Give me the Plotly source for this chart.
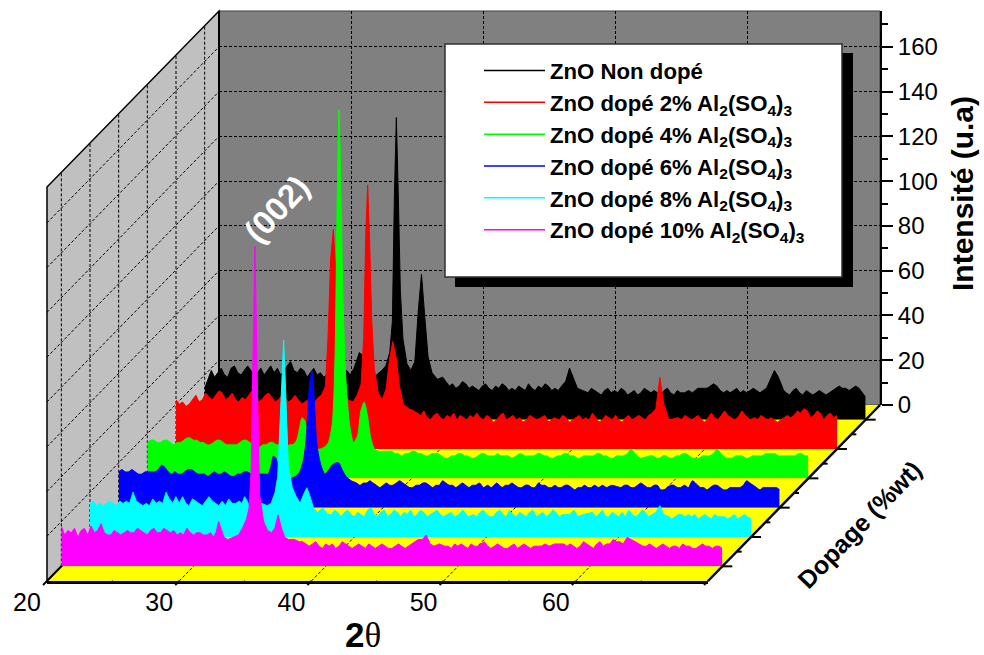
import plotly.graph_objects as go

# ---------- data ----------
two_theta = [20,20.25,20.5,20.75,21,21.25,21.5,21.75,22,22.25,22.5,22.75,23,23.25,23.5,23.75,24,24.25,24.5,24.75,25,25.25,25.5,25.75,26,26.25,26.5,26.75,27,27.25,27.5,27.75,28,28.25,28.5,28.75,29,29.25,29.5,29.75,30,30.25,30.5,30.75,31,
             31.3,31.5,31.7,31.9,32.1,32.3,32.6,33,33.4,33.7,34,34.2,34.35,34.5,34.65,34.8,35,35.3,35.6,35.9,36.15,36.4,36.65,36.9,37.2,37.6,38,
             38.25,38.5,38.75,39,39.25,39.5,39.75,40,40.25,40.5,40.75,41,41.25,41.5,41.75,42,42.25,42.5,42.75,43,43.25,43.5,43.75,44,44.25,44.5,44.75,45,45.25,45.5,45.75,46,46.25,46.5,46.75,47,
             47.3,47.6,47.9,48.2,48.6,
             49,49.25,49.5,49.75,50,50.25,50.5,50.75,51,51.25,51.5,51.75,52,52.25,52.5,52.75,53,53.25,53.5,53.75,54,54.25,54.5,54.75,55,55.25,55.5,55.75,56,
             56.3,56.6,56.9,57.3,
             58,58.25,58.5,58.75,59,59.25,59.5,59.75,60,60.25,60.5,60.75,61,61.25,61.5,61.75,62,62.25,62.5,
             62.8,63.1,63.4,63.8,
             64,64.25,64.5,64.75,65,65.25,65.5,65.75,66,66.25,66.5,66.75,67,67.25,67.5,67.75,68,68.25,68.5,68.75,69,69.25,69.5,69.75,70]

zno_undoped = [14,18,22,19,21,23,20,19,23,24,21,20,22,24,22,19,21,23,20,22,24,21,23,20,22,24,26,22,21,23,22,19,21,23,20,21,19,20,21,18,20,19,21,22,20,
               23,27,30,29,25,21,19,20,22,24,30,44,100,135,100,58,36,25,22,26,48,65,46,28,21,18,19,
               17,15,16,14,15,17,16,14,15,14,13,15,16,14,13,15,14,16,15,13,14,13,15,14,13,16,14,13,15,14,16,15,13,14,13,15,
               17,23,18,14,13,
               12,14,13,12,11,13,14,12,13,12,14,13,11,12,13,11,12,14,13,12,13,12,11,13,14,12,11,13,12,
               12,13,12,14,
               14,15,16,15,13,12,13,12,13,14,12,13,12,13,14,13,12,13,14,
               18,22,19,13,
               12,11,13,14,12,11,13,12,11,12,13,12,11,12,13,14,15,14,14,13,14,15,14,12,10]
zno_2 = [22,20,21,19,20,22,24,21,22,25,23,22,24,26,25,22,23,25,22,21,23,22,24,26,23,21,22,24,25,23,21,22,24,23,21,22,24,22,20,21,22,20,21,23,24,
         28,50,85,98,78,45,27,22,21,24,29,50,95,118,92,58,36,25,22,27,40,48,41,28,20,18,17,
         16,15,17,14,13,15,16,14,13,15,14,16,13,15,14,13,15,14,16,14,13,15,14,12,13,15,16,13,14,15,13,14,12,13,15,14,
         13,14,15,12,14,
         13,15,14,12,13,14,15,13,14,13,16,14,12,13,15,14,13,15,13,12,14,15,13,14,15,14,13,15,16,
         18,32,20,13,
         14,13,15,14,13,14,15,13,12,14,16,14,13,15,17,15,14,13,14,
         17,15,13,14,
         13,15,14,13,14,13,12,13,14,15,14,15,17,16,18,17,14,15,17,16,13,15,16,14,15]
zno_4 = [16,17,17,16,16,17,17,16,15,16,16,17,18,18,17,17,16,16,15,15,16,17,17,16,15,15,15,15,16,17,17,16,15,14,14,15,15,16,16,15,15,14,14,15,15,
         17,22,27,26,21,15,13,13,14,16,25,55,120,165,125,80,46,24,16,19,30,34,28,18,13,12,12,
         12,12,11,11,10,11,11,12,12,11,11,10,10,11,11,11,10,9,9,10,10,11,11,10,10,9,9,10,11,11,10,10,10,11,10,10,
         10,9,10,11,10,
         10,10,11,11,10,10,9,9,10,10,11,11,10,10,9,9,10,10,10,10,11,11,10,10,9,9,10,10,10,
         11,13,11,9,
         10,10,9,9,10,10,9,9,10,10,11,11,10,9,9,9,10,10,10,
         11,13,11,9,
         9,9,10,10,10,9,9,10,10,10,10,11,11,11,11,10,10,10,10,10,10,11,11,10,10]
zno_6 = [16,17,16,16,17,16,15,15,16,16,16,16,17,19,18,16,15,16,15,15,16,17,17,16,15,15,15,14,15,16,15,15,16,15,14,14,15,15,16,16,15,14,15,15,15,
         15,18,23,22,17,13,12,13,14,16,22,32,48,58,61,48,28,19,15,17,19,20,20,17,14,12,11,
         10,11,11,12,11,10,9,10,11,10,10,11,12,11,10,9,9,10,10,11,11,10,9,10,10,12,11,10,10,9,10,11,10,9,10,10,
         11,9,10,9,11,
         9,10,10,11,10,9,9,10,10,9,9,11,10,10,9,9,10,9,9,10,10,9,8,9,9,10,9,9,10,
         9,10,9,10,
         9,10,10,9,9,10,11,10,9,9,10,10,8,8,9,10,10,9,9,
         10,9,12,10,
         9,9,8,9,10,10,9,8,8,9,9,9,9,10,12,11,10,9,8,9,9,9,9,9,8]
zno_8 = [15,16,14,15,14,15,16,15,14,16,15,16,15,20,16,15,14,15,14,17,15,16,15,20,17,15,18,15,18,15,14,17,16,15,14,16,18,16,15,14,16,14,17,15,15,
         16,15,18,16,13,12,13,15,14,15,20,27,48,75,88,65,32,22,18,15,19,22,18,13,11,13,10,
         10,12,11,9,11,12,10,9,11,10,9,12,13,10,9,11,12,9,10,12,11,9,11,10,12,9,10,12,11,9,10,11,12,10,9,10,
         11,9,10,12,9,
         10,9,11,12,10,9,9,11,12,10,9,12,10,9,11,10,9,11,12,9,10,11,9,10,12,11,9,10,10,
         10,12,9,10,
         11,9,10,12,9,9,11,10,9,11,9,12,10,9,10,12,11,9,10,
         11,14,10,9,
         8,9,10,10,9,10,9,10,8,9,10,9,8,10,9,9,9,8,9,10,8,9,10,9,8]
zno_10 = [18,14,16,15,17,13,16,17,14,18,15,16,19,15,14,14,16,15,14,15,16,15,15,17,16,15,14,16,17,15,15,17,16,15,16,14,15,14,17,15,14,15,15,14,14,
          15,13,15,20,16,13,12,13,14,17,21,26,42,95,143,90,32,20,16,15,17,23,17,13,12,12,11,
          11,10,9,10,11,9,8,10,9,10,8,9,11,10,9,8,9,10,9,8,10,9,8,9,10,9,8,8,9,10,9,8,9,10,11,12,
          12,14,10,9,10,
          9,9,8,10,9,10,9,8,10,9,9,10,11,9,8,9,10,9,8,8,9,10,8,9,10,9,8,9,9,
          9,10,9,10,
          10,9,10,9,8,9,11,10,9,8,10,11,9,10,10,12,11,11,10,
          13,12,11,10,
          9,9,10,9,8,9,10,9,8,9,9,8,10,9,9,8,8,9,10,9,9,8,9,9,8]

series_names = ["ZnO Non dopé",
                "ZnO dopé 2% Al<sub>2</sub>(SO<sub>4</sub>)<sub>3</sub>",
                "ZnO dopé 4% Al<sub>2</sub>(SO<sub>4</sub>)<sub>3</sub>",
                "ZnO dopé 6% Al<sub>2</sub>(SO<sub>4</sub>)<sub>3</sub>",
                "ZnO dopé 8% Al<sub>2</sub>(SO<sub>4</sub>)<sub>3</sub>",
                "ZnO dopé 10% Al<sub>2</sub>(SO<sub>4</sub>)<sub>3</sub>"]
series_values = [zno_undoped, zno_2, zno_4, zno_6, zno_8, zno_10]
series_colors = ["#000000", "#FF0000", "#00FF00", "#0000FF", "#00FFFF", "#FF00FF"]
series_shapes = ["linear", "linear", "spline", "spline", "linear", "linear"]
series_depths = [11, 9, 7, 5, 3, 1]
x_tick_values = [20, 30, 40, 50, 60]
y_tick_values = [0, 20, 40, 60, 80, 100, 120, 140, 160]

for s in series_values:
    assert len(s) == len(two_theta), len(s)

# ---------- oblique box geometry (pixels) ----------
W, H = 984, 655
FONT = "Liberation Sans"
X0, Y0 = 47.0, 581.0          # front-left floor corner
X_LEN = 661.0                 # length of the 2-theta axis
Y_LEN = 394.0                 # height of the intensity axis
DEPTH_DX, DEPTH_DY = 172.0, 176.0
DEPTH_MAX = 12.0
THETA_MIN, THETA_MAX = 20.0, 70.0
I_MAX = 176.0


def px(theta):
    return X0 + (theta - THETA_MIN) / (THETA_MAX - THETA_MIN) * X_LEN


def py(value):
    return value / I_MAX * Y_LEN


def ddx(depth):
    return depth / DEPTH_MAX * DEPTH_DX


def ddy(depth):
    return depth / DEPTH_MAX * DEPTH_DY


def xf(p):
    return p / W


def yf(p):
    return 1 - p / H


def line(x1, y1, x2, y2, width=1.0, dash="solid", color="#000000", layer="below"):
    return dict(type="line", xref="paper", yref="paper", x0=xf(x1), y0=yf(y1), x1=xf(x2), y1=yf(y2),
                line=dict(color=color, width=width, dash=dash), layer=layer)


def poly(points, fill, width=0.0, color="#000000", layer="below"):
    path = "M " + " L ".join(f"{xf(a):.5f},{yf(b):.5f}" for a, b in points) + " Z"
    return dict(type="path", xref="paper", yref="paper", path=path, fillcolor=fill,
                line=dict(color=color, width=width), layer=layer)


GRID_DASH = "3px,2px"
shapes = []
BX, BY = X0 + DEPTH_DX, Y0 - DEPTH_DY       # back-left floor corner
shapes.append(poly([(BX, BY), (BX + X_LEN, BY), (BX + X_LEN, BY - Y_LEN), (BX, BY - Y_LEN)], "#808080", 1, "#404040"))
shapes.append(poly([(X0, Y0), (BX, BY), (BX, BY - Y_LEN), (X0, Y0 - Y_LEN)], "#C0C0C0", 1.5))
shapes.append(poly([(X0, Y0), (X0 + X_LEN, Y0), (BX + X_LEN, BY), (BX, BY)], "#FFFF00"))

# walls and floor grids
for v in y_tick_values[1:]:
    shapes.append(line(X0, Y0 - py(v), BX, BY - py(v), 1, GRID_DASH))
for d in series_depths:
    shapes.append(line(X0 + ddx(d), Y0 - ddy(d), X0 + ddx(d), Y0 - ddy(d) - Y_LEN, 1, GRID_DASH))
for t in x_tick_values[1:]:
    shapes.append(line(px(t), Y0, px(t) + DEPTH_DX, BY, 1, GRID_DASH))

# floor edges, depth ticks and the slanted ticks on the 2-theta axis
shapes.append(line(X0, Y0, BX, BY, 2))
shapes.append(line(X0 + X_LEN, Y0, BX + X_LEN, BY, 2.5, layer="above"))
shapes.append(line(BX, BY, BX, BY - Y_LEN, 2))
for i in range(1, 12):
    ex, ey = X0 + X_LEN + ddx(i), Y0 - ddy(i)
    shapes.append(line(ex, ey, ex + (10 if i % 2 else 5), ey, 2, layer="above"))
for t in range(20, 71, 5):
    slant = 4 if t % 10 == 0 else 2
    shapes.append(line(px(t), Y0, px(t) - slant, Y0 + slant, 2, layer="above"))

# legend frame with its drop shadow
shapes.append(dict(type="rect", xref="paper", yref="paper", x0=xf(455), x1=xf(853), y0=yf(287), y1=yf(53),
                   fillcolor="#000000", line=dict(width=0), layer="above"))
shapes.append(dict(type="rect", xref="paper", yref="paper", x0=xf(445), x1=xf(842), y0=yf(277), y1=yf(44),
                   fillcolor="#FFFFFF", line=dict(color="#303030", width=1.5), layer="above"))

fig = go.Figure()
layout_axes = {}

# back wall subplot: the real intensity axis, plus the legend entries
for name, color in zip(series_names, series_colors):
    fig.add_trace(go.Scatter(x=[None], y=[None], mode="lines", name=f"<b>{name}</b>",
                             line=dict(color=color, width=1.5), xaxis="x", yaxis="y"))
layout_axes["xaxis"] = dict(domain=[xf(BX), xf(BX + X_LEN)], range=[THETA_MIN, THETA_MAX], anchor="y",
                            tickvals=x_tick_values[1:], showticklabels=False, ticks="", showline=False,
                            showgrid=True, gridcolor="#000000", gridwidth=1, griddash=GRID_DASH, zeroline=False,
                            automargin=False)
layout_axes["yaxis"] = dict(domain=[yf(BY), yf(BY - Y_LEN)], range=[0, I_MAX], anchor="x", side="right",
                            tickvals=y_tick_values, ticks="outside", ticklen=11, tickwidth=2, tickcolor="#000000",
                            showline=True, linewidth=2, linecolor="#000000",
                            minor=dict(tickvals=list(range(10, 176, 20)), ticks="outside", ticklen=6, tickwidth=2,
                                       tickcolor="#000000", showgrid=False),
                            showgrid=True, gridcolor="#000000", gridwidth=1, griddash=GRID_DASH, zeroline=False,
                            automargin=False,
                            tickfont=dict(family=FONT, size=24, color="#000000"))

# one shifted subplot per sample, each with its own scales
for k, (name, vals, color, depth, shape) in enumerate(zip(series_names, series_values, series_colors,
                                                          series_depths, series_shapes)):
    n = k + 2
    fig.add_trace(go.Scatter(x=two_theta, y=vals, mode="lines", fill="tozeroy", fillcolor=color,
                             line=dict(color=color, width=1, shape=shape, smoothing=0.7), name=name, showlegend=False,
                             xaxis=f"x{n}", yaxis=f"y{n}"))
    left, base = X0 + ddx(depth), Y0 - ddy(depth)
    layout_axes[f"xaxis{n}"] = dict(domain=[xf(left), xf(left + X_LEN)], range=[THETA_MIN, THETA_MAX],
                                    anchor=f"y{n}", visible=False, automargin=False)
    layout_axes[f"yaxis{n}"] = dict(domain=[yf(base), yf(base - Y_LEN)], range=[0, I_MAX],
                                    anchor=f"x{n}", visible=False, automargin=False)

# front subplot: the real 2-theta axis
fig.add_trace(go.Scatter(x=[None], y=[None], showlegend=False, xaxis="x8", yaxis="y8", mode="lines"))
layout_axes["xaxis8"] = dict(domain=[xf(X0), xf(X0 + X_LEN)], range=[THETA_MIN, THETA_MAX], anchor="y8",
                             tickvals=x_tick_values, ticks="", showgrid=False, zeroline=False,
                             showline=True, linewidth=2.5, linecolor="#000000", automargin=False,
                             ticklabelshift=-20, ticklabelstandoff=-3,
                             tickfont=dict(family=FONT, size=25, color="#000000"))
layout_axes["yaxis8"] = dict(domain=[yf(Y0), yf(Y0 - Y_LEN)], range=[0, I_MAX], anchor="x8", visible=False,
                             automargin=False)

annotations = [
    dict(text="<b>2</b><span style=\"font-family:'Liberation Serif'\">θ</span>", x=xf(363), y=yf(635),
         font=dict(family=FONT, size=35, color="#000000")),
    dict(text="<b>Intensité (u.a)</b>", x=xf(962), y=yf(194), textangle=-90,
         font=dict(family=FONT, size=30, color="#000000")),
    dict(text="<b>Dopage (%wt)</b>", x=xf(859), y=yf(525), textangle=-46,
         font=dict(family=FONT, size=25, color="#000000")),
    dict(text="<b>(002)</b>", x=xf(276), y=yf(209), textangle=-47,
         font=dict(family=FONT, size=33, color="#FFFFFF")),
]
for a in annotations:
    a.update(xref="paper", yref="paper", showarrow=False, xanchor="center", yanchor="middle")

fig.update_layout(
    template="none",
    width=W, height=H, margin=dict(l=0, r=0, t=0, b=0, pad=0), autosize=False,
    paper_bgcolor="#FFFFFF", plot_bgcolor="rgba(0,0,0,0)",
    font=dict(family=FONT, color="#000000"),
    shapes=shapes, annotations=annotations,
    legend=dict(x=xf(479), y=yf(49.5), xanchor="left", yanchor="top", bgcolor="rgba(0,0,0,0)",
                borderwidth=0, itemwidth=61, traceorder="normal", itemclick=False, itemdoubleclick=False,
                font=dict(family=FONT, size=22.2, color="#000000")),
    **layout_axes,
)

fig.write_html("out.html", config=dict(displayModeBar=False), post_script="document.body.style.margin='0';")
